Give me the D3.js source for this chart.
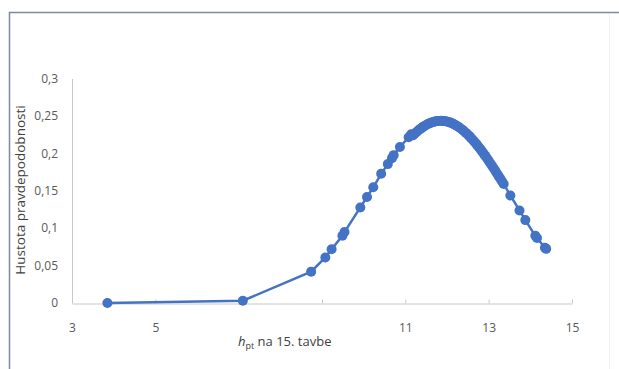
<!DOCTYPE html>
<html>
<head>
<meta charset="utf-8">
<script src="https://cdn.jsdelivr.net/npm/d3@7"></script>
<style>
  body { margin: 0; background: #fff; }
  svg { display: block; }
</style>
</head>
<body>
<svg id="chart" width="619" height="369"></svg>
<script>
// values
const hpt = [3.85, 7.10, 8.74, 9.08, 9.23, 9.49, 9.54, 9.92, 10.08, 10.23, 10.42, 10.58, 10.68, 10.72, 10.87, 11.08, 11.14,
  11.18, 11.22, 11.27, 11.31, 11.36, 11.40, 11.43, 11.47, 11.52, 11.56, 11.60, 11.63, 11.67, 11.71, 11.74, 11.78, 11.82, 11.86,
  11.90, 11.93, 11.97, 12.01, 12.05, 12.08, 12.12, 12.16, 12.20, 12.24, 12.28, 12.32, 12.37, 12.41, 12.45, 12.49, 12.53, 12.57,
  12.61, 12.65, 12.69, 12.72, 12.76, 12.80, 12.84, 12.88, 12.92, 12.96, 13.00, 13.04, 13.08, 13.12, 13.16, 13.20, 13.24, 13.28,
  13.32, 13.36, 13.52, 13.74, 13.88, 14.12, 14.16, 14.35, 14.38];
const density = [0.000, 0.003, 0.042, 0.061, 0.072, 0.090, 0.095, 0.128, 0.142, 0.155, 0.173, 0.186, 0.194, 0.198, 0.209, 0.222, 0.226,
  0.2245, 0.2265, 0.2290, 0.2310, 0.2332, 0.2349, 0.2360, 0.2375, 0.2390, 0.2401, 0.2412, 0.2418, 0.2425, 0.2431, 0.2434, 0.2437, 0.2439, 0.2440,
  0.2439, 0.2437, 0.2433, 0.2429, 0.2422, 0.2416, 0.2407, 0.2396, 0.2385, 0.2371, 0.2357, 0.2341, 0.2320, 0.2301, 0.2281, 0.2260, 0.2238, 0.2215,
  0.2190, 0.2165, 0.2139, 0.2118, 0.2090, 0.2061, 0.2031, 0.2001, 0.1970, 0.1938, 0.1905, 0.1872, 0.1839, 0.1805, 0.1770, 0.1735, 0.1699, 0.1664,
  0.1629, 0.1594, 0.1440, 0.1240, 0.1110, 0.0900, 0.0870, 0.0740, 0.0725];
const xTicks = [3, 5, 7, 9, 11, 13, 15];
const xTickLabels = ["3", "5", "", "", "11", "13", "15"];
const yTicks = [0, 0.05, 0.1, 0.15, 0.2, 0.25, 0.3];
const yTickLabels = ["0", "0,05", "0,1", "0,15", "0,2", "0,25", "0,3"];

const data = hpt.map((x, i) => ({x: x, y: density[i]}));

const svg = d3.select("#chart");
const blue = "#4472c4";
const font = "'Open Sans', 'Liberation Sans', sans-serif";

// outer frame
svg.append("path")
    .attr("d", "M9.5,369 L9.5,12.5 L619,12.5")
    .attr("fill", "none")
    .attr("stroke", "#7d8ba0")
    .attr("stroke-width", 1.5);
svg.append("line")
    .attr("x1", 609.5).attr("x2", 609.5).attr("y1", 14).attr("y2", 369)
    .attr("stroke", "#eef0f4");

const x = d3.scaleLinear().domain([3, 15]).range([72, 572]);
const y = d3.scaleLinear().domain([0, 0.3]).range([303, 79]);

// y axis (line only)
svg.append("line")
    .attr("x1", x(3) + 0.5).attr("x2", x(3) + 0.5)
    .attr("y1", y(0.3)).attr("y2", y(0))
    .attr("stroke", "#c8c8c8");

svg.selectAll(".ylab")
    .data(yTicks)
    .join("text")
    .attr("class", "ylab")
    .attr("x", 58)
    .attr("y", d => y(d) + 4)
    .attr("text-anchor", "end")
    .style("font-family", font)
    .style("font-size", "12px")
    .style("fill", "#595959")
    .text((d, i) => yTickLabels[i]);

// x axis
const xAxis = svg.append("g")
    .attr("transform", `translate(0,${y(0) + 0.5})`)
    .call(d3.axisBottom(x).tickValues(xTicks).tickSize(-4).tickSizeOuter(0).tickFormat((d, i) => xTickLabels[i]));
xAxis.select(".domain").attr("stroke", "#c8c8c8");
xAxis.selectAll(".tick line").attr("stroke", "#c8c8c8");
xAxis.selectAll(".tick text")
    .attr("y", 20)
    .style("font-family", font)
    .style("font-size", "12px")
    .style("fill", "#595959");

// axis titles
svg.append("text")
    .attr("transform", "translate(25,190) rotate(-90)")
    .attr("text-anchor", "middle")
    .style("font-family", font)
    .style("font-size", "13.5px")
    .style("fill", "#404040")
    .text("Hustota pravdepodobnosti");

const xt = svg.append("text")
    .attr("x", 238)
    .attr("y", 346)
    .style("font-family", font)
    .style("font-size", "13px")
    .style("fill", "#404040");
xt.append("tspan").style("font-style", "italic").text("h");
xt.append("tspan").attr("dy", 3).style("font-size", "9px").text("pt");
xt.append("tspan").attr("dy", -3).text(" na 15. tavbe");

// line + markers
svg.append("path")
    .datum(data)
    .attr("d", d3.line().x(d => x(d.x)).y(d => y(d.y)))
    .attr("fill", "none")
    .attr("stroke", blue)
    .attr("stroke-width", 2.5);

svg.selectAll(".pt")
    .data(data)
    .join("circle")
    .attr("class", "pt")
    .attr("cx", d => x(d.x))
    .attr("cy", d => y(d.y))
    .attr("r", 5)
    .attr("fill", blue);
</script>
</body>
</html>
